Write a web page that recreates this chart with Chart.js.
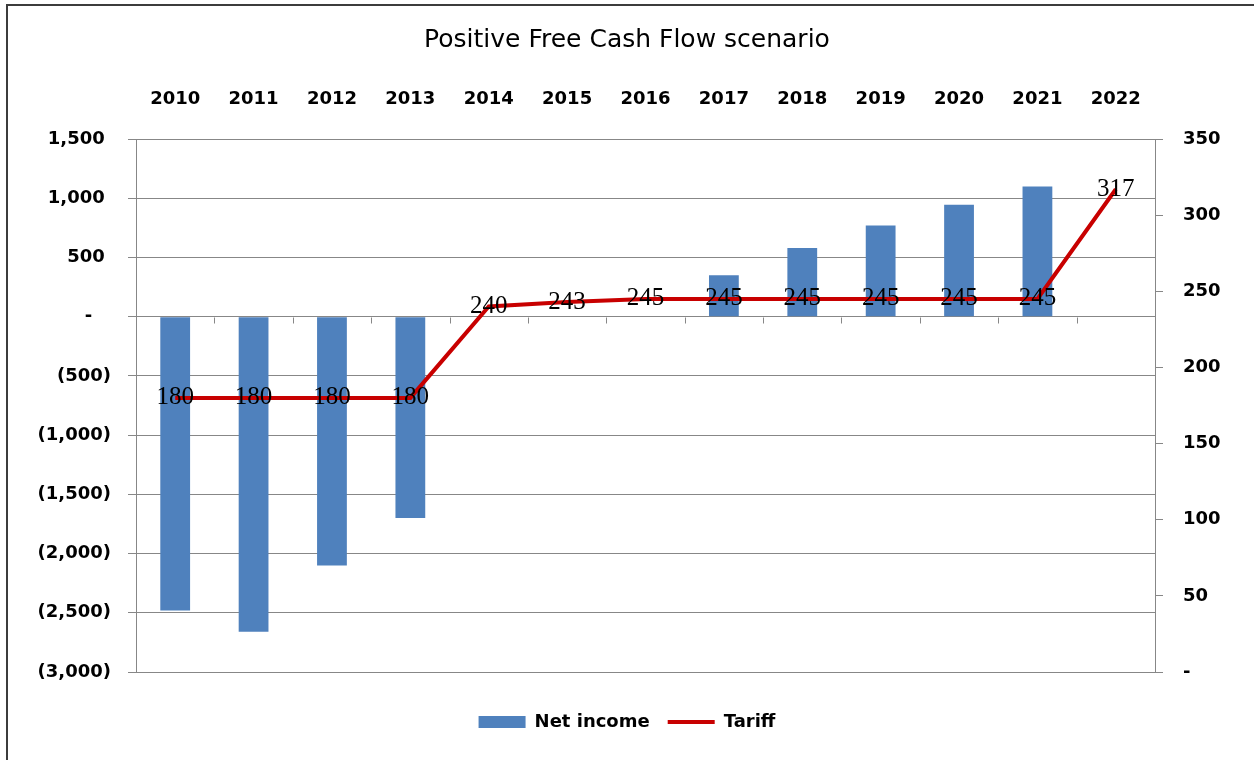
<!DOCTYPE html>
<html>
<head>
<meta charset="utf-8">
<title>Positive Free Cash Flow scenario</title>
<script src="https://cdn.jsdelivr.net/npm/chart.js@4/dist/chart.umd.min.js"></script>
<style>
  html, body { margin: 0; padding: 0; background: #fff; }
  #wrap { position: relative; width: 1254px; height: 760px; }
  #frame { position: absolute; left: 6px; top: 4px; right: 0; bottom: 0;
           border-top: 2px solid #3c3c3c; border-left: 2px solid #3c3c3c; pointer-events: none; }
  canvas { display: block; }
</style>
</head>
<body>
<div id="wrap">
  <canvas id="chart" width="1254" height="760"></canvas>
  <div id="frame"></div>
</div>
<script>
// Years shown along the top axis
const years = ['2010', '2011', '2012', '2013', '2014', '2015', '2016',
               '2017', '2018', '2019', '2020', '2021', '2022'];

// Net income (left axis)
const netIncome = [-2480, -2660, -2100, -1700, null, null, null,
                   350, 580, 770, 945, 1100, null];

// Tariff (right axis)
const tariff = [180, 180, 180, 180, 240, 243, 245, 245, 245, 245, 245, 245, 317];

// Axis ranges
const leftAxis = { min: -3000, max: 1500, step: 500 };
const rightAxis = { min: 0, max: 350, step: 50 };

const SANS = "'DejaVu Sans', Verdana, sans-serif";
const SERIF = "'Liberation Serif', 'Times New Roman', serif";
const GRID = '#878787';

// Accounting style: (1,000) for negatives, "-" for zero
function accounting(v) {
  if (v === 0) return '-   ';
  const s = Math.abs(v).toLocaleString('en-US');
  return v < 0 ? '(' + s + ')' : s + ' ';
}

// Small marks on the zero line at every category boundary
const categoryTicks = {
  id: 'categoryTicks',
  beforeDatasetsDraw(chart) {
    const x = chart.scales.x, y = chart.scales.y, ctx = chart.ctx;
    const step = x.getPixelForValue(1) - x.getPixelForValue(0);
    const y0 = Math.round(y.getPixelForValue(0)) + 0.5;
    ctx.save();
    ctx.strokeStyle = GRID;
    ctx.lineWidth = 1;
    ctx.beginPath();
    for (let i = 1; i < years.length; i++) {
      const px = Math.round(x.getPixelForValue(i) - step / 2) + 0.5;
      ctx.moveTo(px, y0);
      ctx.lineTo(px, y0 + 6);
    }
    ctx.stroke();
    ctx.restore();
  }
};

// Value labels centred on each tariff point
const tariffLabels = {
  id: 'tariffLabels',
  afterDatasetsDraw(chart) {
    const idx = chart.data.datasets.findIndex(d => d.label === 'Tariff');
    const meta = chart.getDatasetMeta(idx);
    const ctx = chart.ctx;
    ctx.save();
    ctx.font = '25px ' + SERIF;
    ctx.fillStyle = '#000';
    ctx.textAlign = 'center';
    ctx.textBaseline = 'middle';
    meta.data.forEach((pt, i) => {
      const v = chart.data.datasets[idx].data[i];
      if (v != null) ctx.fillText(String(v), pt.x, pt.y);
    });
    ctx.restore();
  }
};

const tickFont = { family: SANS, size: 18, weight: 'bold' };

new Chart(document.getElementById('chart'), {
  type: 'bar',
  data: {
    labels: years,
    datasets: [
      {
        type: 'bar',
        label: 'Net income',
        data: netIncome,
        yAxisID: 'y',
        backgroundColor: '#4f81bd',
        borderWidth: 0,
        categoryPercentage: 1,
        barPercentage: 0.38,
        pointStyle: 'rect',
        order: 1
      },
      {
        type: 'line',
        label: 'Tariff',
        data: tariff,
        yAxisID: 'y2',
        borderColor: '#c80000',
        backgroundColor: '#c80000',
        borderWidth: 4,
        pointRadius: 0,
        pointHoverRadius: 0,
        pointStyle: 'line',
        tension: 0,
        order: 0
      }
    ]
  },
  options: {
    responsive: false,
    animation: false,
    events: [],
    layout: { padding: { left: 0, right: 0, top: 0, bottom: 19 } },
    plugins: {
      title: {
        display: true,
        text: 'Positive Free Cash Flow scenario',
        color: '#000',
        font: { family: SANS, size: 25, weight: 'normal', lineHeight: 1.2 },
        padding: { top: 25, bottom: 0 }
      },
      legend: {
        position: 'bottom',
        title: { display: true, text: '', padding: { top: 22, bottom: 0 }, font: { size: 1, lineHeight: 1 } },
        labels: {
          usePointStyle: true,
          pointStyleWidth: 47,
          boxHeight: 12,
          padding: 18,
          color: '#000',
          font: tickFont,
          sort: (a, b) => a.datasetIndex - b.datasetIndex
        }
      },
      tooltip: { enabled: false }
    },
    scales: {
      x: {
        type: 'category',
        position: 'top',
        offset: true,
        grid: { display: false, drawTicks: false },
        border: { display: false },
        ticks: { padding: 29, color: '#000', font: tickFont, maxRotation: 0, autoSkip: false },
        afterFit(s) { s.height = 84; }
      },
      y: {
        position: 'left',
        min: leftAxis.min,
        max: leftAxis.max,
        ticks: { stepSize: leftAxis.step, padding: 17, color: '#000', font: tickFont, callback: v => accounting(v) },
        grid: { color: GRID, lineWidth: 1, tickLength: 8 },
        border: { color: GRID },
        afterFit(s) { s.width = 136; }
      },
      y2: {
        position: 'right',
        min: rightAxis.min,
        max: rightAxis.max,
        ticks: { stepSize: rightAxis.step, padding: 20, color: '#000', font: tickFont,
                 callback: v => (v === 0 ? '-' : String(v)) },
        grid: { drawOnChartArea: false, color: GRID, tickLength: 8 },
        border: { color: GRID },
        afterFit(s) { s.width = 99; }
      }
    }
  },
  plugins: [categoryTicks, tariffLabels]
});
</script>
</body>
</html>
